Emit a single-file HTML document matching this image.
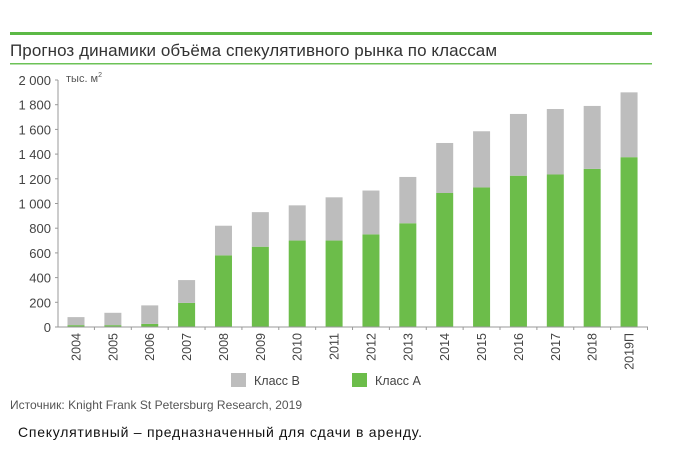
<!DOCTYPE html>
<html><head><meta charset="utf-8"><style>
body{margin:0;width:689px;height:464px;background:#fff;font-family:"Liberation Sans","DejaVu Sans",sans-serif;overflow:hidden}
</style></head><body>
<svg width="689" height="464" style="position:absolute;left:0;top:0">
<rect x="10" y="32" width="642" height="3" fill="#5cb946"/>
<text x="10" y="56" font-size="17" fill="#333" textLength="487">Прогноз динамики объёма спекулятивного рынка по классам</text>
<rect x="10" y="63" width="642" height="1.5" fill="#6cc257"/>
<g id="yaxis"></g>
<g id="bars"></g>
<g id="xaxis"></g>
<text x="66" y="82" font-size="11" fill="#555">тыс. м<tspan dy="-5" font-size="7">2</tspan></text>
<g>
<rect x="231" y="373" width="15" height="14" fill="#bdbdbd"/>
<text x="254" y="385" font-size="12.5" fill="#444">Класс В</text>
<rect x="352" y="373" width="15" height="14" fill="#6cbd4a"/>
<text x="375" y="385" font-size="12.5" fill="#444">Класс А</text>
</g>
<text x="10" y="409" font-size="12" fill="#555" textLength="292">Источник: Knight Frank St Petersburg Research, 2019</text>
<text x="18" y="437" font-size="14" fill="#111" textLength="404">Спекулятивный  – предназначенный для сдачи в аренду.</text>
</svg>
<script>
const categories=["2004","2005","2006","2007","2008","2009","2010","2011","2012","2013","2014","2015","2016","2017","2018","2019П"];
const classA=[15,15,25,195,580,650,700,700,750,840,1085,1130,1225,1235,1280,1375];
const classB=[65,100,150,185,240,280,285,350,355,375,405,455,500,530,510,525];
const yTicks=[0,200,400,600,800,1000,1200,1400,1600,1800,2000];
const yTickLabels=["0","200","400","600","800","1 000","1 200","1 400","1 600","1 800","2 000"];
const NS="http://www.w3.org/2000/svg";
const y0=327,yTop=80,yMax=2000;
function yS(v){return y0-(v/yMax)*(y0-yTop);}
const x0=76,step=36.87,bw=17;
function xS(i){return x0+i*step;}
function mk(tag,attrs,parent){const e=document.createElementNS(NS,tag);for(const k in attrs)e.setAttribute(k,attrs[k]);parent.appendChild(e);return e;}
const ya=document.getElementById('yaxis'),ba=document.getElementById('bars'),xa=document.getElementById('xaxis');
const axl=mk('line',{x1:58,y1:yTop,x2:58,y2:y0,stroke:'#999','stroke-width':1},ya);


yTicks.forEach((t,i)=>{
 const tk=mk('line',{x1:55,x2:58,y1:yS(t),y2:yS(t),stroke:'#999'},ya);
 
 
 const tx=mk('text',{x:51,y:yS(t)+5,'text-anchor':'end','font-size':13,fill:'#444'},ya);
 tx.textContent=yTickLabels[i];
 
 
});
const xl=mk('line',{x1:58,y1:y0,x2:648,y2:y0,stroke:'#999'},xa);


categories.forEach((c,i)=>{
 const cx=xS(i);
 const a=mk('rect',{x:cx-bw/2,y:yS(classA[i]),width:bw,height:y0-yS(classA[i]),fill:'#6cbd4a'},ba);
 
 
 const b=mk('rect',{x:cx-bw/2,y:yS(classA[i]+classB[i]),width:bw,height:yS(classA[i])-yS(classA[i]+classB[i]),fill:'#bdbdbd'},ba);
 
 
 const tk=mk('line',{x1:cx+step/2,x2:cx+step/2,y1:y0,y2:y0+3,stroke:'#999'},xa);
 
 
 const tx=mk('text',{x:0,y:0,'text-anchor':'end','font-size':12.5,fill:'#444',transform:`translate(${cx+4.5},${y0+6}) rotate(-90)`},xa);
 tx.textContent=c;
 
 
});
</script>
</body></html>
